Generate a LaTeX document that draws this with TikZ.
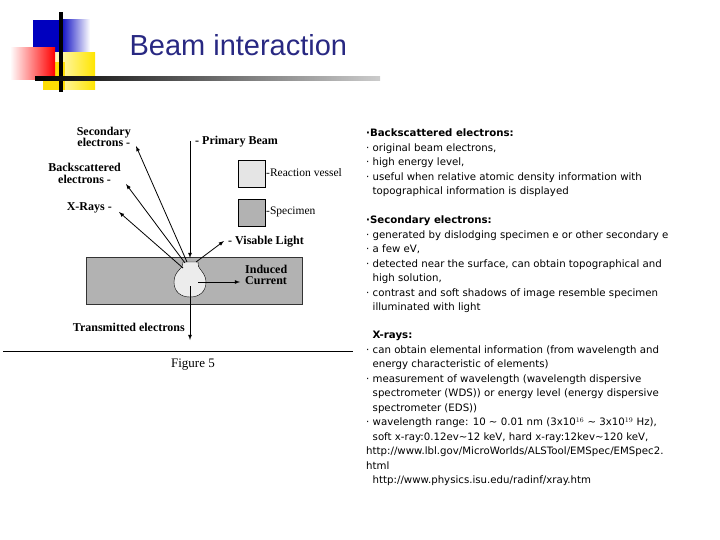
\documentclass[tikz,border=0pt]{standalone}
\usepackage{fontspec}
\setmainfont{Liberation Serif}
\newfontfamily\tah{DejaVu Sans}
\newfontfamily\ttl{Liberation Sans}
\definecolor{ttlc}{RGB}{40,40,130}
\begin{document}
\begin{tikzpicture}[x=1pt,y=-1pt,
 lab/.style={font=\bfseries\fontsize{12}{11}\selectfont,inner sep=0pt},
 ray/.style={-latex,thick},
 rtxt/.style={font=\tah\fontsize{10.2}{14.5}\selectfont,align=left,anchor=north west,inner sep=0pt}]
\useasboundingbox (0,0) rectangle (720,540);
% decoration
\fill[blue!75!black] (33,20) rectangle (60,52);
\shade[left color=blue!75!black,right color=white] (60,20) rectangle (90,52);
\shade[left color=white,right color=yellow!80!orange] (43,53) rectangle (95,90);
\fill[yellow!80!orange] (43,62) rectangle (65,90);
\shade[left color=white,right color=red] (10,48) rectangle (55,80);
\fill (59,12) rectangle (63,92);
\shade[left color=black,right color=gray!40] (35,77) rectangle (380,81);
\node[anchor=west,font=\ttl\fontsize{29}{29}\selectfont,text=ttlc] (title) at (126,45) {Beam interaction};
% specimen
\fill[gray!60] (86,257) rectangle (302,304);
\draw[gray!40!black] (86,257) rectangle (302,304);
\fill[gray!15,draw=black] (183,262) .. controls (185,268) and (174,270) .. (174,282)
  .. controls (174,292) and (181,297) .. (190,297) .. controls (199,297) and (206,292) .. (206,282)
  .. controls (206,272) and (196,268) .. (198,262) -- cycle;
\node[lab,anchor=north west,align=left] (ic) at (245,265) {Induced\\Current};
\draw[ray] (198,282) -- (240,282);
% legend
\fill[gray!20,draw=black] (238,160) rectangle (265,187);
\fill[gray!60,draw=black] (238,199) rectangle (265,226);
\node[anchor=west,inner sep=0pt,font=\fontsize{11.5}{11}\selectfont] (rv) at (266,173) {-Reaction vessel};
\node[anchor=west,inner sep=0pt,font=\fontsize{11.5}{11}\selectfont] (sp) at (266,212) {-Specimen};
% labels
\node[lab,anchor=east,align=center] (se) at (131,137) {Secondary\\electrons -};
\node[lab,anchor=west] (pb) at (195,142) {- Primary Beam};
\node[lab,anchor=east,align=center] (bs) at (121,173) {Backscattered\\[1pt]electrons -};
\node[lab,anchor=east] (xr) at (112,208) {X-Rays -};
\node[lab,anchor=west] (vl) at (228,242) {- Visable Light};
\node[lab,anchor=east] (te) at (185,327) {Transmitted electrons};
\coordinate (pbs) at (190,141);
\coordinate (se2) at (136,146);
\coordinate (bs2) at (126,184);
\coordinate (xr2) at (119,212);
\coordinate (vl2) at (224,241);
\coordinate (te2) at (190,340);
\draw[ray] (pbs) -- (190,258);
\draw[ray] (187,262) -- (se2);
\draw[ray] (185,263) -- (bs2);
\draw[ray] (183,268) -- (xr2);
\draw[ray] (196,262) -- (vl2);
\draw[ray] (190,286) -- (te2);
\draw[thick] (3,351) -- (353,351);
\node[font=\fontsize{13}{13}\selectfont] (fig) at (193,365) {Figure 5};
% right text
\node[rtxt] (t1) at (366,129) {\textbf{·Backscattered electrons:}\\
· original beam electrons,\\
· high energy level,\\
· useful when relative atomic density information with\\
\ \ topographical information is displayed\\[14.5pt]
\textbf{·Secondary electrons:}\\
· generated by dislodging specimen e or other secondary e\\
· a few eV,\\
· detected near the surface, can obtain topographical and\\
\ \ high solution,\\
· contrast and soft shadows of image resemble specimen\\
\ \ illuminated with light};
\node[rtxt] (t2) at (366,331) {\ \ \textbf{X-rays:}\\
· can obtain elemental information (from wavelength and\\
\ \ energy characteristic of elements)\\
· measurement of wavelength (wavelength dispersive\\
\ \ spectrometer (WDS)) or energy level (energy dispersive\\
\ \ spectrometer (EDS))\\
· wavelength range: 10 {\char"7E} 0.01 nm (3x10$^{16}$ {\char"7E} 3x10$^{19}$ Hz),\\
\ \ soft x-ray:0.12ev{\char"7E}12 keV, hard x-ray:12kev{\char"7E}120 keV,\\
http://www.lbl.gov/MicroWorlds/ALSTool/EMSpec/EMSpec2.\\
html\\
\ \ http://www.physics.isu.edu/radinf/xray.htm};
\end{tikzpicture}
\end{document}
